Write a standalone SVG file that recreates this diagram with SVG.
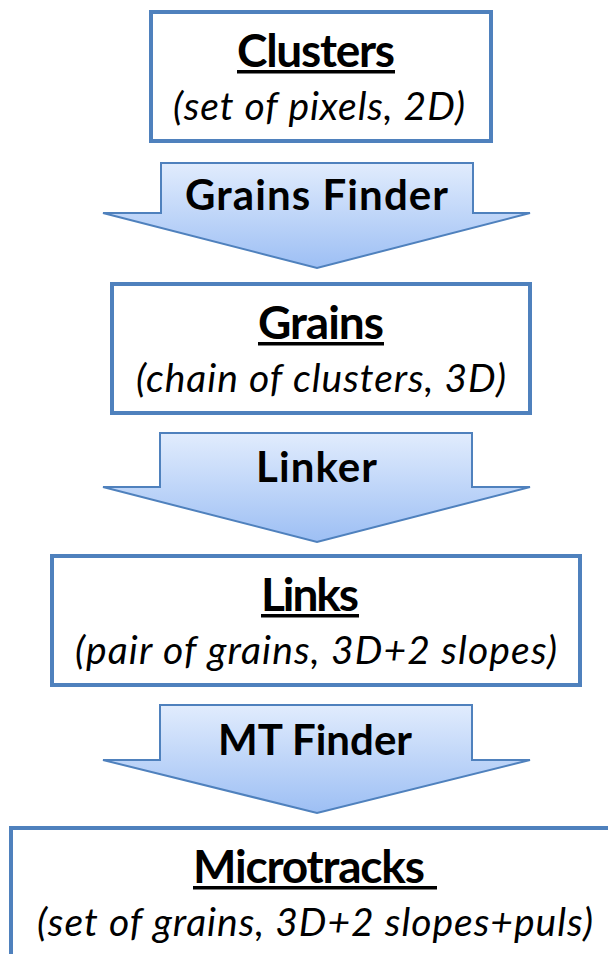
<svg xmlns="http://www.w3.org/2000/svg" width="608" height="954" viewBox="0 0 608 954">
  <defs>
    <linearGradient id="arrowFill" x1="0" y1="0" x2="0" y2="1">
      <stop offset="0" stop-color="#e1ecfd"/>
      <stop offset="1" stop-color="#9dbff4"/>
    </linearGradient>
  </defs>
  <style>
    .box { fill: #ffffff; stroke: #4f81bd; stroke-width: 4; }
    .arrow { fill: url(#arrowFill); stroke: #4f81bd; stroke-width: 2; stroke-linejoin: miter; }
    .title { font-family: Lato, Carlito, "Liberation Sans", sans-serif; font-weight: bold; font-size: 46px; fill: #000000; }
    .sub { font-family: Lato, Carlito, "Liberation Sans", sans-serif; font-style: italic; font-size: 39px; fill: #000000; }
    .lbl { font-family: Lato, Carlito, "Liberation Sans", sans-serif; font-weight: bold; font-size: 42px; fill: #000000; }
    .ul { fill: #000000; }
  </style>
  <rect width="608" height="954" fill="#ffffff"/>

  <g id="connectors">
    <g id="arrow-grains-finder">
      <polygon class="arrow" points="161,163 473,163 473,213 530,213 317,268 103,213 161,213"/>
      <text class="lbl" x="185" y="210" textLength="263">Grains Finder</text>
    </g>
    <g id="arrow-linker">
      <polygon class="arrow" points="160,433 472,433 472,487 530,487 317,542 103,487 160,487"/>
      <text class="lbl" x="256" y="482" textLength="121">Linker</text>
    </g>
    <g id="arrow-mt-finder">
      <polygon class="arrow" points="160,705 472,705 472,760 530,760 317,813 103,760 160,760"/>
      <text class="lbl" x="218" y="755" textLength="194">MT Finder</text>
    </g>
  </g>

  <g id="node-clusters">
    <rect class="box" x="151" y="12" width="340" height="129"/>
    <text class="title" x="237" y="67" textLength="158">Clusters</text>
    <rect class="ul" x="237" y="70" width="158" height="3.5"/>
    <text class="sub" x="173" y="120" textLength="292">(set of pixels, 2D)</text>
  </g>

  <g id="node-grains">
    <rect class="box" x="112" y="284" width="418" height="129"/>
    <text class="title" x="258" y="339" textLength="126">Grains</text>
    <rect class="ul" x="258" y="342" width="126" height="3.5"/>
    <text class="sub" x="136" y="392" textLength="370">(chain of clusters, 3D)</text>
  </g>

  <g id="node-links">
    <rect class="box" x="52" y="556" width="528" height="129"/>
    <text class="title" x="261" y="611" textLength="98">Links</text>
    <rect class="ul" x="261" y="614" width="98" height="3.5"/>
    <text class="sub" x="75" y="664" textLength="482">(pair of grains, 3D+2 slopes)</text>
  </g>

  <g id="node-microtracks">
    <rect class="box" x="11" y="828" width="700" height="200"/>
    <text class="title" x="193" y="883" textLength="232">Microtracks</text>
    <rect class="ul" x="193" y="886" width="244" height="3.5"/>
    <text class="sub" x="37" y="936" textLength="556">(set of grains, 3D+2 slopes+puls)</text>
  </g>
</svg>
